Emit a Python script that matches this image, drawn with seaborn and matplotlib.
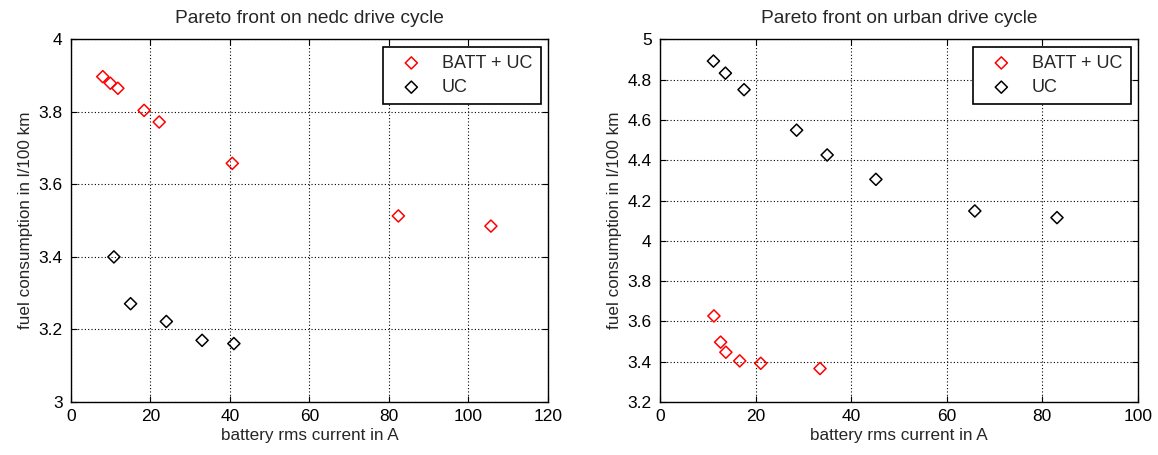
import matplotlib
matplotlib.use("Agg")
import matplotlib.pyplot as plt
import seaborn as sns
import pandas as pd

# NEDC drive cycle: battery rms current [A] vs fuel consumption [l/100 km]
nedc_batt_uc_x = [8.0, 9.9, 11.8, 18.4, 22.2, 40.6, 82.4, 105.7]
nedc_batt_uc_y = [3.897, 3.879, 3.865, 3.804, 3.772, 3.658, 3.513, 3.485]
nedc_uc_x = [10.8, 15.0, 24.0, 33.0, 41.0]
nedc_uc_y = [3.400, 3.271, 3.222, 3.170, 3.161]

# Urban drive cycle
urban_batt_uc_x = [11.3, 12.7, 13.8, 16.7, 21.1, 33.5]
urban_batt_uc_y = [3.627, 3.497, 3.447, 3.404, 3.392, 3.366]
urban_uc_x = [11.2, 13.7, 17.6, 28.6, 35.0, 45.2, 65.9, 83.1]
urban_uc_y = [4.892, 4.832, 4.750, 4.549, 4.426, 4.305, 4.148, 4.115]

series_labels = ["BATT + UC", "UC"]
series_colors = ["#ff0000", "#000000"]

sns.set_style("white")
plt.rcParams["font.family"] = ["Liberation Sans", "DejaVu Sans"]

fig = plt.figure(figsize=(11.58, 4.55), dpi=100)
ax1 = fig.add_axes([0.0613, 0.1165, 0.4117, 0.7971])
ax2 = fig.add_axes([0.5699, 0.1165, 0.4126, 0.7971])

panels = [
    (ax1, "Pareto front on nedc drive cycle",
     [(nedc_batt_uc_x, nedc_batt_uc_y), (nedc_uc_x, nedc_uc_y)],
     (0, 120), (3, 4), list(range(0, 121, 20)), [3, 3.2, 3.4, 3.6, 3.8, 4]),
    (ax2, "Pareto front on urban drive cycle",
     [(urban_batt_uc_x, urban_batt_uc_y), (urban_uc_x, urban_uc_y)],
     (0, 100), (3.2, 5), list(range(0, 101, 20)),
     [3.2, 3.4, 3.6, 3.8, 4, 4.2, 4.4, 4.6, 4.8, 5]),
]

for ax, title, series, xlim, ylim, xt, yt in panels:
    for (xs, ys), lab, col in zip(series, series_labels, series_colors):
        df = pd.DataFrame({"x": xs, "y": ys})
        sns.scatterplot(data=df, x="x", y="y", ax=ax, marker="D", s=38,
                        facecolors="none", edgecolors=col, linewidths=1.1,
                        label=lab, zorder=3)
    ax.set_xlim(*xlim)
    ax.set_ylim(*ylim)
    ax.set_xticks(xt)
    ax.set_yticks(yt)
    ax.set_yticklabels([f"{v:g}" for v in yt])
    ax.grid(True, color="black", linestyle=(0, (1, 2)), linewidth=0.8)
    ax.tick_params(direction="in", length=4, labelsize=12.5, colors="black",
                   top=True, right=True, bottom=True, left=True)
    ax.tick_params(axis="y", pad=6)
    ax.tick_params(axis="x", pad=5)
    for sp in ax.spines.values():
        sp.set_color("black")
        sp.set_linewidth(1.0)
    ax.set_title(title, fontsize=13.8, pad=12)
    ax.set_xlabel("battery rms current in A", fontsize=12.3, labelpad=3)
    ax.set_ylabel("fuel consumption in l/100 km", fontsize=12.3, labelpad=4)
    leg = ax.legend(loc="upper right", fontsize=13, frameon=True, fancybox=False,
                    edgecolor="black", framealpha=1, borderpad=0.45,
                    handletextpad=0.6, labelspacing=0.4, borderaxespad=0.4,
                    handlelength=2.2)
    leg.get_frame().set_linewidth(1.2)

fig.savefig("out.png", dpi=100)
